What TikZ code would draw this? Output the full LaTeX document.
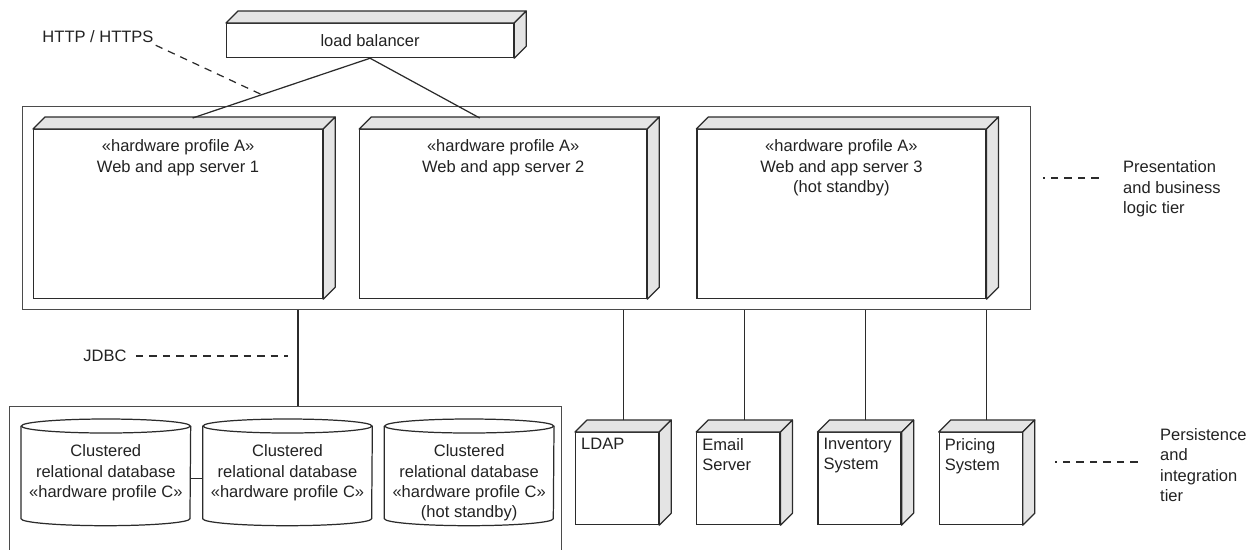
\documentclass[tikz,border=0pt]{standalone}
\usepackage{fontspec}
\setmainfont{Liberation Sans}
\usetikzlibrary{positioning,calc}

\definecolor{edge}{HTML}{2B2B2B}
\definecolor{sidegray}{HTML}{E4E4E4}
\definecolor{ink}{HTML}{222222}

\tikzset{
  hw/.style={draw=edge, line width=0.7pt, fill=white, inner sep=0pt},
  face/.style={draw=edge, line width=0.7pt, fill=sidegray, line join=round},
  tierbox/.style={draw=edge!85, line width=0.8pt, anchor=north west},
  dbnode/.style={inner sep=0pt, minimum width=3.38cm, minimum height=2.12cm},
  dbline/.style={draw=edge, line width=0.7pt},
  wire/.style={draw=edge, line width=0.7pt},
  note/.style={draw=edge, line width=0.7pt, dash pattern=on 0.15cm off 0.12cm},
}

\begin{document}
\begin{tikzpicture}[x=0.02cm, y=-0.02cm,
  every node/.style={font=\fontsize{9.4pt}{11.6pt}\selectfont, text=ink}]
\useasboundingbox (0,0) rectangle (1250,549);
\clip (0,0) rectangle (1250,549);

% tier frames
\node[tierbox, minimum width=20.16cm, minimum height=4.06cm] (tier) at (22,106) {};
\node[tierbox, minimum width=11.04cm, minimum height=3.4cm] (dbs) at (9,406) {};

% load balancer and the web/app servers
\node[hw, anchor=north west, minimum width=5.74cm, minimum height=0.68cm] (lb) at (226,23) {load balancer};
\node[hw, anchor=north west, minimum width=5.78cm, minimum height=3.38cm,
  label={[anchor=north, yshift=-0.09cm, align=center]north:{«hardware profile A»\\Web and app server 1}}] (s1) at (33,129) {};
\node[hw, right=0.72cm of s1, minimum width=5.74cm, minimum height=3.38cm,
  label={[anchor=north, yshift=-0.09cm, align=center]north:{«hardware profile A»\\Web and app server 2}}] (s2) {};
\node[hw, right=0.98cm of s2, minimum width=5.78cm, minimum height=3.38cm,
  label={[anchor=north, yshift=-0.09cm, align=center]north:{«hardware profile A»\\Web and app server 3\\(hot standby)}}] (s3) {};

% back-end systems
\node[hw, anchor=north west, minimum width=1.66cm, minimum height=1.84cm,
  label={[anchor=north west, align=left]north west:{LDAP}}] (ldap) at (575,432) {};
\node[hw, right=0.74cm of ldap, minimum width=1.66cm, minimum height=1.84cm,
  label={[anchor=north west, align=left]north west:{Email\\Server}}] (mail) {};
\node[hw, right=0.74cm of mail, minimum width=1.66cm, minimum height=1.84cm,
  label={[anchor=north west, align=left]north west:{Inventory\\System}}] (inv) {};
\node[hw, right=0.74cm of inv, minimum width=1.66cm, minimum height=1.84cm,
  label={[anchor=north west, align=left]north west:{Pricing\\System}}] (price) {};

% 3d faces
\foreach \n in {lb,s1,s2,s3,ldap,mail,inv,price}{
  \filldraw[face] (\n.north west) -- ([shift={(0.24cm,0.24cm)}]\n.north west)
    -- ([shift={(0.24cm,0.24cm)}]\n.north east) -- (\n.north east) -- cycle;
  \filldraw[face] (\n.north east) -- ([shift={(0.24cm,0.24cm)}]\n.north east)
    -- ([shift={(0.24cm,0.24cm)}]\n.south east) -- (\n.south east) -- cycle;
}

% database cluster
\node[dbnode, anchor=north west,
  label={[anchor=north, yshift=-0.39cm, align=center]north:{Clustered\\relational database\\«hardware profile C»}}] (db1) at (21,419) {};
\node[dbnode, right=0.24cm of db1,
  label={[anchor=north, yshift=-0.39cm, align=center]north:{Clustered\\relational database\\«hardware profile C»}}] (db2) {};
\node[dbnode, right=0.24cm of db2,
  label={[anchor=north, yshift=-0.39cm, align=center]north:{Clustered\\relational database\\«hardware profile C»\\(hot standby)}}] (db3) {};

\foreach \n in {db1,db2,db3}{
  \draw[dbline] ([yshift=-0.14cm]\n.north west) -- ([yshift=0.14cm]\n.south west)
    arc[start angle=180, end angle=360, x radius=1.69cm, y radius=0.14cm]
    -- ([yshift=-0.14cm]\n.north east);
  \draw[dbline] ([yshift=-0.14cm]\n.north) ellipse[x radius=1.69cm, y radius=0.14cm];
}
\draw[wire] ([yshift=-0.12cm]db1.east) -- ([yshift=-0.12cm]db2.west);

% connections
\coordinate (s1top) at ([xshift=0.29cm, yshift=0.22cm]s1.north);
\coordinate (s2top) at ([xshift=-0.47cm, yshift=0.22cm]s2.north);
\draw[wire] (lb.south) -- (s1top);
\draw[wire] (lb.south) -- (s2top);

\coordinate (jd) at (298,356);
\draw[wire] (jd |- tier.south) -- (jd |- dbs.north);

\foreach \n in {ldap,mail,inv,price}{
  \draw[wire] ([xshift=0.12cm, yshift=0.24cm]\n.north) coordinate (top\n) -- (top\n |- tier.south);
}

% notes
\node (http) at (98,37) {HTTP / HTTPS};
\draw[note] ([xshift=-0.08cm, yshift=0.08cm]http.south east) -- ($(lb.south)!0.61!(s1top)$);

\node (jdbc) at (105,356) {JDBC};
\draw[note] ([xshift=0.06cm]jdbc.east) -- ([xshift=-0.2cm]jd);

\node[align=left, anchor=west] (pres) at (1117,189) {Presentation\\and business\\logic tier};
\draw[note] ([xshift=-0.37cm, yshift=0.22cm]pres.west) -- ++(-1.12cm,0);

\node[align=left, anchor=west] (pers) at (1154,465) {Persistence\\and\\integration\\tier};
\draw[note] ([xshift=-0.33cm, yshift=0.06cm]pers.west) -- ++(-1.66cm,0);
\end{tikzpicture}
\end{document}
